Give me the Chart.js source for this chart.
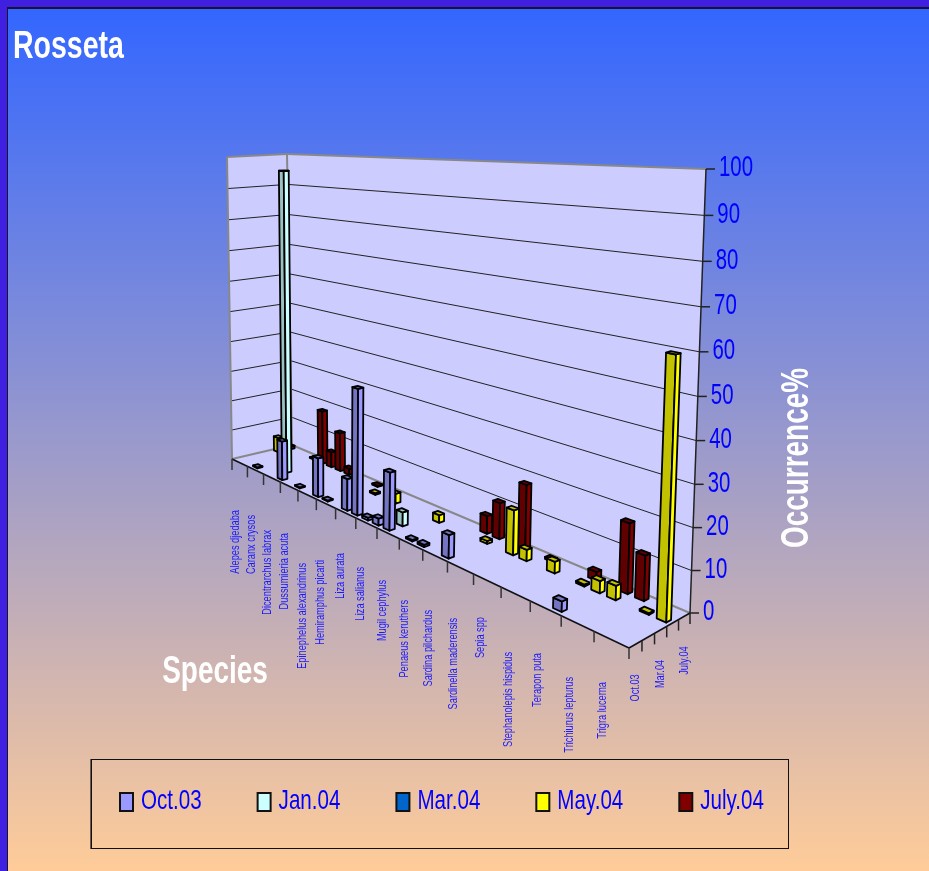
<!DOCTYPE html>
<html>
<head>
<meta charset="utf-8">
<title>Rosseta</title>
<style>html,body{margin:0;padding:0;background:#fff}canvas{display:block}</style>
<script src="https://cdn.jsdelivr.net/npm/chart.js@4/dist/chart.umd.js"></script>
</head>
<body>
<canvas id="chart" width="929" height="871"></canvas>
<script>
// Species occurrence per sampling campaign. Every second category carries a printed name.
const species = [
  "Alepes djedaba","", "Caranx crysos","", "Dicentrarchus labrax","", "Dussumieria acuta","",
  "Epinephelus alexandrinus","", "Hemiramphus picarti","", "Liza aurata","", "Liza salianus","",
  "Mugil cephylus","", "Penaeus keruthers","", "Sardina pilchardus","", "Sardinella maderensis","",
  "Sepia spp","", "Stephanolepis hispidus","", "Terapon puta","", "Trichiurus lepturus","",
  "Trigra lucerna",""
];
const campaigns = ["Oct.03","Jan.04","Mar.04","May.04","July.04"];
const oct03 = [0,0,0.3,0,0,12.5,0,0.3,0,12,0.3,0,9.5,37,0.8,2,16.5,0,0.4,0.6,0,6.3,0,0,0,0,0,0,0,2.5,0,0,0,0];
const jan04 = [0,0,0,0,96,0,0,0,0,0,0,0,0,0,0,0,4,0,0,0,0,0,0,0,0,0,0,0,0,0,0,0,0,0];
const mar04 = [0,0,0,0,0,0,0,0,0,0,0,0,0,0,0,0,0,0,0,0,0,0,0,0,0,0,0,0,0,0,0,0,0,0];
const may04 = [5,0,0,0,0,0,0,0,0,0,0,0.5,0,3,0,0,0,2.2,0,0,0,0.8,0,12,3,0,3,0,0.5,3,3.5,0,0.4,60.5];
const jul04 = [1,0,0,0.3,17.6,5,12.5,2,0,0,0.4,0,0,0,0,0,0,0,0,0,5,10,0,17.6,0,0.5,0,0,2.2,0,17.3,11,0,0];
const seriesValues = [oct03, jan04, mar04, may04, jul04];
const seriesColors = ["#9999FF","#CCFFFF","#0066CC","#FFFF00","#800000"];
const axisTicks = {min:0, max:100, step:10};
const chartTitle = "Rosseta";
const valueAxisTitle = "Occurrence%";
const categoryAxisTitle = "Species";

// Species-label top ends, one per printed name, as laid out below the floor edge.
const speciesLabelTops = [510,515,530,533,563,560,553,567,580,600,610,618,617,652,653,677,682];

const FONT = '"Liberation Sans",Arial,sans-serif';
const BLUE = "#0000FF";

// Perspective box of the plot: floor corners and the tops of the three visible wall edges.
const floorFL = [232,459], floorFR = [629,648], floorBR = [690,613], floorBL = [292,445];
const topFL = [227,157], topBL = [287,154], topBR = [706,169];
const VERTICAL_FORESHORTEN = 0.05;

const camera = (() => {
  const dx1 = floorFR[0]-floorBR[0], dy1 = floorFR[1]-floorBR[1];
  const dx2 = floorBL[0]-floorBR[0], dy2 = floorBL[1]-floorBR[1];
  const sx = floorFL[0]-floorFR[0]+floorBR[0]-floorBL[0];
  const sy = floorFL[1]-floorFR[1]+floorBR[1]-floorBL[1];
  const det = dx1*dy2-dy1*dx2;
  const g = (sx*dy2-sy*dx2)/det, h = (dx1*sy-dy1*sx)/det;
  const wFR = 1+g, wBR = 1+g+h, wBL = 1+h;
  const nu = [floorFR[0]*wFR-floorFL[0], floorFR[1]*wFR-floorFL[1]];
  const nv = [floorBL[0]*wBL-floorFL[0], floorBL[1]*wBL-floorFL[1]];
  const hA = [topFL[0]-floorFL[0], topFL[1]-floorFL[1]];
  const hD = [(topBL[0]-floorBL[0])*wBL, (topBL[1]-floorBL[1])*wBL];
  const hC = [(topBR[0]-floorBR[0])*wBR, (topBR[1]-floorBR[1])*wBR];
  return {g,h,nu,nv,hA,
    hu:[hC[0]-hD[0],hC[1]-hD[1]], hv:[hD[0]-hA[0],hD[1]-hA[1]]};
})();

// Maps along-species u, depth v (0..1) and height fraction t (0..1) to canvas pixels.
function project(u, v, t) {
  const c = camera;
  const w = 1+c.g*u+c.h*v;
  const f = t/(1+VERTICAL_FORESHORTEN*(1-t));
  return [0,1].map(i => (floorFL[i]+c.nu[i]*u+c.nv[i]*v+(c.hA[i]+c.hu[i]*u+c.hv[i]*v)*f)/w);
}

function shade(hex, k) {
  const n = parseInt(hex.slice(1),16);
  const p = s => Math.round(((n>>s)&255)*k);
  return `rgb(${p(16)},${p(8)},${p(0)})`;
}

function poly(ctx, pts, fill, stroke, lw) {
  ctx.beginPath();
  pts.forEach((p,i)=> i?ctx.lineTo(p[0],p[1]):ctx.moveTo(p[0],p[1]));
  ctx.closePath();
  if (fill) { ctx.fillStyle = fill; ctx.fill(); }
  if (stroke) { ctx.strokeStyle = stroke; ctx.lineWidth = lw; ctx.stroke(); }
}

function line(ctx, a, b, color, lw) {
  ctx.beginPath(); ctx.moveTo(a[0],a[1]); ctx.lineTo(b[0],b[1]);
  ctx.strokeStyle = color; ctx.lineWidth = lw; ctx.stroke();
}

// Draws condensed text: the face is squeezed along its baseline by `squeeze`.
function condensed(ctx, text, x, y, o) {
  ctx.save();
  ctx.translate(x,y);
  if (o.vertical) ctx.rotate(-Math.PI/2);
  ctx.scale(o.squeeze,1);
  ctx.font = o.font; ctx.fillStyle = o.color;
  ctx.textAlign = o.align || "left"; ctx.textBaseline = "middle";
  ctx.fillText(text,0,0);
  ctx.restore();
}

// Bar controller whose elements are extruded as boxes standing on the perspective floor.
class Box3DController extends Chart.BarController {
  static id = "box3d";
  static defaults = {...Chart.BarController.defaults};
  static overrides = Chart.BarController.overrides;
  draw() {
    const meta = this._cachedMeta, ctx = this.chart.ctx;
    const xs = meta.xScale, ys = meta.yScale;
    const v = (this.index+0.5)/campaigns.length;
    const du = 0.55/(2*species.length), dv = 0.4/(2*campaigns.length);
    const color = this.getDataset().backgroundColor;
    const dark = shade(color,0.76);
    ctx.save();
    ctx.lineJoin = "round";
    meta.data.forEach((el,i) => {
      if (!this.getParsed(i).y) return;
      const u = (el.x-xs.left)/xs.width;
      const t = (ys.bottom-el.y)/(ys.bottom-ys.top);
      const corner = (a,b,h) => project(u+a*du, v+b*dv, h);
      const fl=corner(-1,-1,0), fr=corner(1,-1,0), br=corner(1,1,0);
      const tfl=corner(-1,-1,t), tfr=corner(1,-1,t), tbr=corner(1,1,t), tbl=corner(-1,1,t);
      poly(ctx,[fl,fr,tfr,tfl],dark,"#000",1.8);
      poly(ctx,[fr,br,tbr,tfr],color,"#000",1.8);
      poly(ctx,[tfl,tfr,tbr,tbl],dark,"#000",1.8);
    });
    ctx.restore();
  }
}
Chart.register(Box3DController);

// Slide background, frame, heading and legend.
const backdrop = {
  id:"backdrop",
  beforeDraw(chart) {
    const {ctx,width,height} = chart;
    const g = ctx.createLinearGradient(0,8,0,height);
    g.addColorStop(0,"#3366FF"); g.addColorStop(1,"#FFCC99");
    ctx.save();
    ctx.fillStyle = "#3F1FE0"; ctx.fillRect(0,0,width,height);
    ctx.fillStyle = "#1A1230"; ctx.fillRect(7,7,width-7,height-7);
    ctx.fillStyle = g; ctx.fillRect(8,9,width-8,height-9);

    condensed(ctx,chartTitle,13,48,{font:`bold 38px ${FONT}`,color:"#FFFFFF",squeeze:0.75});

    // legend entries laid out in a row inside their rectangle
    ctx.strokeStyle = "#111"; ctx.lineWidth = 1;
    ctx.strokeRect(91.5,759.5,697,89);
    ctx.strokeStyle = "#6B5A50"; ctx.lineWidth = 1;
    line(ctx,[90.5,759],[90.5,849],"#6B5A50",1);
    const squeeze = 0.735, font = `28px ${FONT}`;
    let cursor = 120;
    chart.data.datasets.forEach(ds => {
      ctx.fillStyle = ds.backgroundColor;
      ctx.fillRect(cursor,793,13,18);
      ctx.strokeStyle = "#111"; ctx.lineWidth = 2;
      ctx.strokeRect(cursor,793,13,18);
      condensed(ctx,ds.label,cursor+21,801,{font,color:BLUE,squeeze});
      ctx.font = font;
      cursor += 21+ctx.measureText(ds.label).width*squeeze+56;
    });
    ctx.restore();
  }
};

// Walls, floor, value gridlines, and the axes of the perspective box.
const box = {
  id:"box",
  beforeDatasetsDraw(chart) {
    const ctx = chart.ctx, ys = chart.scales.y, xs = chart.scales.x;
    const frac = val => (ys.bottom-ys.getPixelForValue(val))/(ys.bottom-ys.top);
    const nCat = chart.data.labels.length, nSer = chart.data.datasets.length;
    const A=project(0,0,0),B=project(1,0,0),C=project(1,1,0),D=project(0,1,0);
    const At=project(0,0,1),Ct=project(1,1,1),Dt=project(0,1,1);
    ctx.save();
    poly(ctx,[At,Dt,D,A],"#CCCCFF");
    poly(ctx,[Dt,Ct,C,D],"#CCCCFF");
    poly(ctx,[A,B,C,D],"#CCCCFF");

    // gridlines and tick labels follow the value scale's own ticks
    ys.ticks.forEach(tick => {
      const t = frac(tick.value);
      const a=project(0,0,t), d=project(0,1,t), c=project(1,1,t);
      if (tick.value>0 && tick.value<axisTicks.max) {
        line(ctx,a,d,"#222",1); line(ctx,d,c,"#222",1);
      }
      line(ctx,c,[c[0]+9,c[1]],"#222",1.5);
      condensed(ctx,String(tick.value),c[0]+13,c[1]-1,
        {font:`30px ${FONT}`,color:BLUE,squeeze:0.68});
    });

    line(ctx,At,Dt,"#888",2); line(ctx,Dt,Ct,"#888",2);
    line(ctx,At,A,"#888",2); line(ctx,Dt,D,"#888",2);
    line(ctx,A,D,"#888",2); line(ctx,D,C,"#888",2);
    line(ctx,Ct,C,"#222",1.5);
    line(ctx,A,B,"#111",1.5); line(ctx,B,C,"#111",1.5);

    // tick marks below the floor edges
    for (let j=0;j<=nCat;j+=2) {
      const p = project(j/nCat,0,0);
      line(ctx,p,[p[0],p[1]+11],"#333",1.5);
    }
    for (let s=1;s<=nSer;s++) {
      const p = project(1,s/nSer,0);
      line(ctx,p,[p[0],p[1]+11],"#222",1.5);
    }

    // printed species names
    const small = {font:`12px ${FONT}`,color:"#1A1AFF",squeeze:0.77,vertical:true,align:"right"};
    chart.data.labels.forEach((name,j) => {
      if (!name) return;
      const u = (xs.getPixelForValue(j)-xs.left)/xs.width;
      condensed(ctx,name,project(u,0,0)[0],speciesLabelTops[j/2],small);
    });
    // every other campaign name along the depth edge
    chart.data.datasets.forEach((ds,s) => {
      if (s%2) return;
      const p = project(1,(s+0.5)/nSer,0);
      condensed(ctx,ds.label,p[0],p[1]+30,small);
    });

    // axis titles
    const heading = {font:`bold 38px ${FONT}`,color:"#FFFFFF",squeeze:0.735,align:"center"};
    condensed(ctx,valueAxisTitle,798,458,{...heading,vertical:true});
    condensed(ctx,categoryAxisTitle,215,673,heading);
    ctx.restore();
  }
};

new Chart(document.getElementById("chart"), {
  type:"box3d",
  data:{
    labels:species,
    datasets:campaigns.map((name,i)=>({
      label:name,
      data:seriesValues[i],
      backgroundColor:seriesColors[i],
      clip:false
    }))
  },
  plugins:[backdrop,box],
  options:{
    responsive:false,
    animation:false,
    events:[],
    datasets:{box3d:{grouped:false}},
    layout:{padding:{left:13,right:50,top:169,bottom:0}},
    scales:{
      x:{
        type:"category",
        grid:{display:false},
        border:{display:false},
        ticks:{display:false},
        afterFit(s){ s.height = 258; }
      },
      y:{
        position:"right",
        min:axisTicks.min,
        max:axisTicks.max,
        grid:{display:false},
        border:{display:false},
        ticks:{display:false,stepSize:axisTicks.step},
        afterFit(s){ s.width = 189; }
      }
    },
    plugins:{
      tooltip:{enabled:false},
      title:{display:false},
      legend:{display:false}
    }
  }
});
</script>
</body>
</html>
